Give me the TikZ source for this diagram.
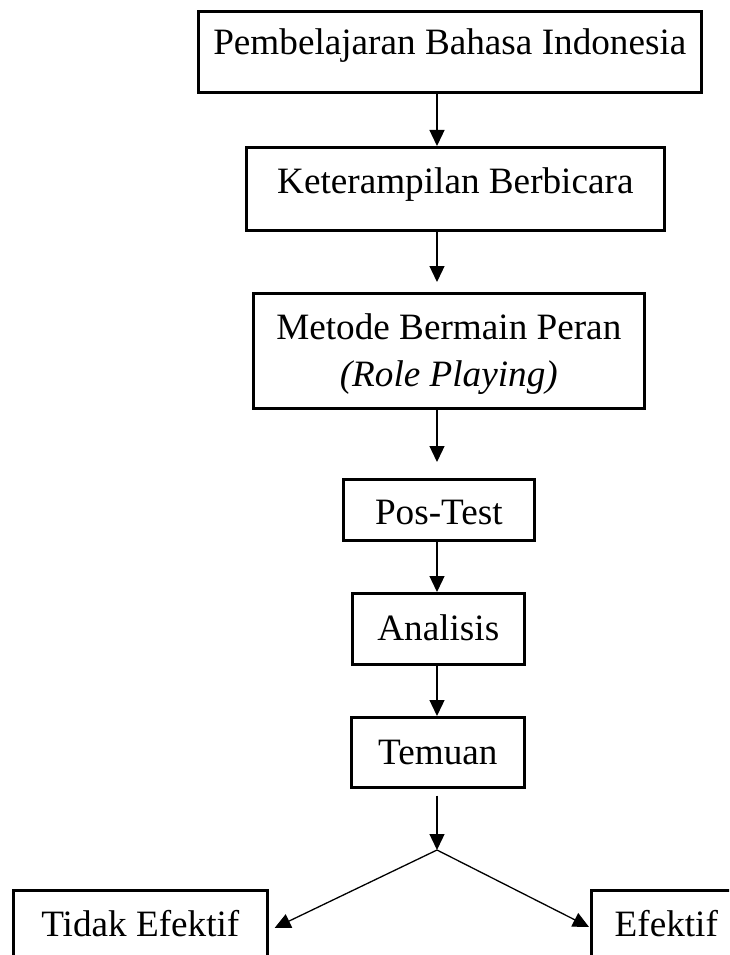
\documentclass[tikz,border=0pt]{standalone}
\usepackage{fontspec}
\setmainfont{Liberation Serif}
\usetikzlibrary{arrows.meta,calc}
\begin{document}
\begin{tikzpicture}[x=1pt,y=-1pt,
  box/.style={draw=black,line width=2.6pt,inner xsep=0pt,inner ysep=0pt,anchor=north west,
    font=\fontsize{37.2}{47}\selectfont},
  arr/.style={line width=1.3pt,-{Triangle[length=16pt,width=15pt]}}]
\useasboundingbox (0,0) rectangle (729,955);
\clip (0,0) rectangle (729,955);
% boxes: (left,top), width, height via text height/depth (baseline - top, bottom - baseline)
\node[box,minimum width=503pt,text height=43pt,text depth=38pt] (b1) at (197,10) {Pembelajaran Bahasa Indonesia};
\node[box,minimum width=418pt,text height=46pt,text depth=37pt] (b2) at (245,146) {Keterampilan Berbicara};
\node[box,minimum width=391pt,text height=46pt,text depth=69pt] (b3) at (252,292)
  {\setlength{\tabcolsep}{0pt}\renewcommand{\arraystretch}{1}\begin{tabular}[t]{c}Metode Bermain Peran\\ \textit{(Role Playing)}\end{tabular}};
\node[box,minimum width=191pt,text height=45pt,text depth=16pt] (b4) at (342,478) {Pos-Test};
\node[box,minimum width=172pt,text height=47pt,text depth=24pt] (b5) at (351,592) {Analisis};
\node[box,minimum width=173pt,text height=47pt,text depth=23pt] (b6) at (350,716) {Temuan};
\node[box,minimum width=254pt,text height=46pt,text depth=60pt] (b7) at (12,889) {Tidak Efektif};
\node[box,minimum width=150pt,text height=46pt,text depth=60pt] (b8) at (590,889) {Efektif};
% connectors
\coordinate (ax) at (437,0);
\coordinate (apex) at (437,850);
\draw[arr] (b1.south -| ax) -- (b2.north -| ax);
\draw[arr] (b2.south -| ax) -- ([yshift=10pt]b3.north -| ax);
\draw[arr] (b3.south -| ax) -- ([yshift=16pt]b4.north -| ax);
\draw[arr] (b4.south -| ax) -- (b5.north -| ax);
\draw[arr] (b5.south -| ax) -- (b6.north -| ax);
\draw[arr] ([yshift=-7pt]b6.south -| ax) -- (apex);
\draw[arr] (apex) -- ($(b7.north east)+(6,39)$);
\draw[arr] (apex) -- ($(b8.north west)+(-1,38)$);
\end{tikzpicture}
\end{document}
